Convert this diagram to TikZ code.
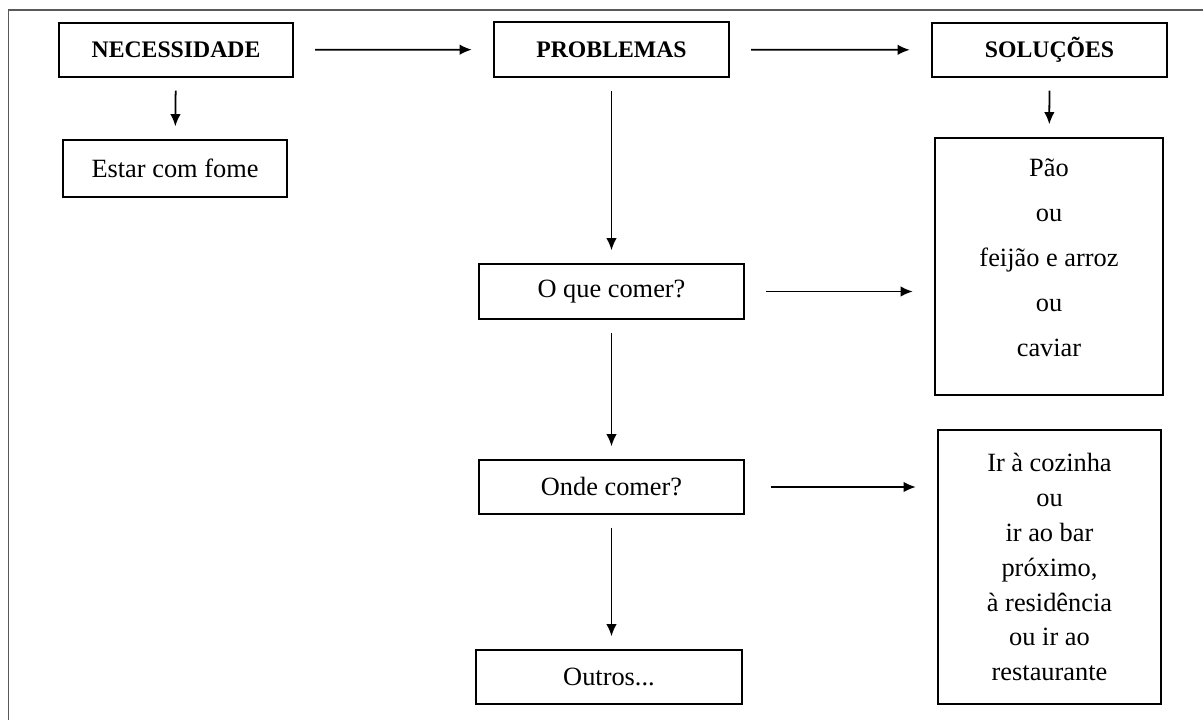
\documentclass[tikz,border=0pt]{standalone}
\usepackage{fontspec}
\setmainfont{Liberation Serif}
\usetikzlibrary{arrows.meta}
\begin{document}
\begin{tikzpicture}
	[	box/.style={rectangle,draw=black,line width=1.3pt,inner sep=0pt,font=\fontsize{15}{18}\selectfont},
	head/.style={box,font=\fontsize{13.5}{16}\selectfont\bfseries},
	harr/.style={-{Latex[length=7pt,width=6pt]},line width=1pt,shorten <=.42cm,shorten >=.42cm},
	varr/.style={-{Latex[length=7pt,width=6pt]},line width=1pt,shorten <=.25cm,shorten >=.25cm},
	frame/.style={draw=black!65,line width=1pt}
	]
	\clip (0,0) rectangle (24.06,-14.4);
	\draw[frame] (0.17,-0.2) rectangle (24.6,-15);

	\node[head,minimum width=4.68cm,minimum height=1.08cm] (nec) at (3.52,-1.0){NECESSIDADE};
	\node[head,minimum width=4.70cm,minimum height=1.10cm] (prob) at (12.23,-0.99){PROBLEMAS};
	\node[head,minimum width=4.70cm,minimum height=1.08cm] (sol) at (20.99,-1.0){SOLUÇÕES};

	\node[box,minimum width=4.48cm,minimum height=1.14cm] (fome) at (3.50,-3.37){Estar com fome};
	\node[box,minimum width=5.30cm,minimum height=1.10cm] (oque) at (12.23,-5.83){O que comer?};
	\node[box,minimum width=5.30cm,minimum height=1.08cm] (onde) at (12.23,-9.74){Onde comer?};
	\node[box,minimum width=5.32cm,minimum height=1.08cm] (outros) at (12.18,-13.54){Outros...};

	\node[box,align=center,minimum width=4.56cm,minimum height=5.14cm,text depth=.36cm,
		font=\fontsize{15}{25.6}\selectfont] (pao) at (20.98,-5.33)
		{Pão\\ou\\feijão e arroz\\ou\\caviar};
	\node[box,align=center,minimum width=4.46cm,minimum height=5.48cm,
		font=\fontsize{15}{19.9}\selectfont] (ir) at (20.99,-11.34)
		{Ir à cozinha\\ou\\ir ao bar\\próximo,\\à residência\\ou ir ao\\restaurante};

	\draw[harr] (nec) -- (prob);
	\draw[harr] (prob) -- (sol);
	\draw[varr] (nec) -- (fome);
	\draw[varr] (sol) -- (pao);
	\draw[varr] (prob) -- (oque);
	\draw[varr] (oque) -- (onde);
	\draw[varr] (onde.south) -- (onde.south |- outros.north);
	\draw[harr] (oque.east) -- (oque.east -| pao.west);
	\draw[harr,shorten <=.52cm] (onde.east) -- (onde.east -| ir.west);
\end{tikzpicture}
\end{document}
